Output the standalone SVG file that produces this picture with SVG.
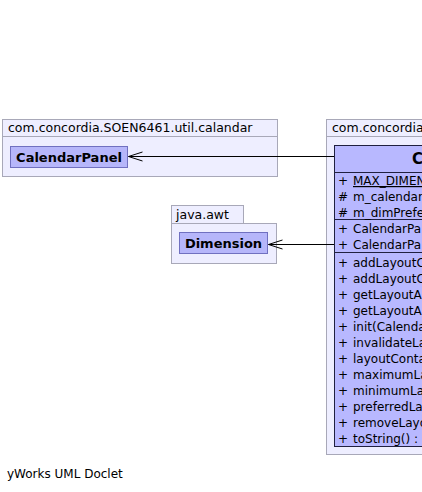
<svg xmlns="http://www.w3.org/2000/svg" width="422" height="492" viewBox="0 0 422 492">
<style>
text{font-family:"DejaVu Sans","Liberation Sans",sans-serif;fill:#000}
.pkg{fill:#eeeeff;stroke:#a8a8b8;stroke-width:1}
.pl{font-size:12.5px}
.ft{font-size:12px}
.ref{fill:#b6b6fa;stroke:#7070c0;stroke-width:1}
.cls{fill:#b8b8ff;stroke:#202040;stroke-width:1}
.sep{stroke:#202040;stroke-width:1}
.cn{font-size:13px;font-weight:bold}
.big{font-size:15px;font-weight:bold}
.m{font-size:12px}
.conn{stroke:#000;stroke-width:1;fill:none}
</style>
<defs>
<marker id="open" markerWidth="16" markerHeight="12" refX="15" refY="6" orient="auto" markerUnits="userSpaceOnUse">
<path d="M1,1.5 L15,6 L1,10.5" fill="none" stroke="#000" stroke-width="1"/>
</marker>
</defs>
<rect width="422" height="492" fill="#fff"/>

<g id="pkg-calandar">
<rect class="pkg" x="2.5" y="119.5" width="275" height="57"/>
<line x1="2.5" y1="136.5" x2="277.5" y2="136.5" stroke="#a8a8b8"/>
<text class="pl" x="8" y="132">com.concordia.SOEN6461.util.calandar</text>
</g>
<g id="node-CalendarPanel">
<rect class="ref" x="10.5" y="146.5" width="117" height="21"/>
<text class="cn" x="69" y="161.5" text-anchor="middle">CalendarPanel</text>
</g>

<g id="pkg-java-awt">
<rect class="pkg" x="171.5" y="205.5" width="72" height="18"/>
<rect class="pkg" x="171.5" y="223.5" width="105" height="40"/>
<text class="pl" x="176" y="219">java.awt</text>
</g>
<g id="node-Dimension">
<rect class="ref" x="179.5" y="232.5" width="88" height="21"/>
<text class="cn" x="223.5" y="247.5" text-anchor="middle">Dimension</text>
</g>

<g id="pkg-concordia">
<rect class="pkg" x="326.5" y="119.5" width="110" height="335"/>
<line x1="326.5" y1="136.5" x2="436" y2="136.5" stroke="#a8a8b8"/>
<text class="pl" x="332" y="132">com.concordia</text>
</g>
<g id="node-main-class">
<rect class="cls" x="334.5" y="145.5" width="100" height="301"/>
<line class="sep" x1="334.5" y1="172.5" x2="434" y2="172.5"/>
<line class="sep" x1="334.5" y1="219.5" x2="434" y2="219.5"/>
<line class="sep" x1="334.5" y1="252.5" x2="434" y2="252.5"/>
<text class="big" x="412" y="164">C</text>
<g>
<text class="m" x="338" y="185">+</text><text class="m" x="353" y="185" text-decoration="underline">MAX_DIMEN</text>
<text class="m" x="338" y="201">#</text><text class="m" x="353" y="201">m_calendar</text>
<text class="m" x="338" y="217">#</text><text class="m" x="353" y="217">m_dimPrefe</text>
<text class="m" x="338" y="233">+</text><text class="m" x="353" y="233">CalendarPa</text>
<text class="m" x="338" y="249">+</text><text class="m" x="353" y="249">CalendarPa</text>
<text class="m" x="338" y="266.5">+</text><text class="m" x="353" y="266.5">addLayoutC</text>
<text class="m" x="338" y="282.5">+</text><text class="m" x="353" y="282.5">addLayoutC</text>
<text class="m" x="338" y="298.5">+</text><text class="m" x="353" y="298.5">getLayoutA</text>
<text class="m" x="338" y="314.5">+</text><text class="m" x="353" y="314.5">getLayoutA</text>
<text class="m" x="338" y="330.5">+</text><text class="m" x="353" y="330.5">init(Calenda</text>
<text class="m" x="338" y="346.5">+</text><text class="m" x="353" y="346.5">invalidateLa</text>
<text class="m" x="338" y="362.5">+</text><text class="m" x="353" y="362.5">layoutConta</text>
<text class="m" x="338" y="378.5">+</text><text class="m" x="353" y="378.5">maximumLa</text>
<text class="m" x="338" y="394.5">+</text><text class="m" x="353" y="394.5">minimumLa</text>
<text class="m" x="338" y="410.5">+</text><text class="m" x="353" y="410.5">preferredLa</text>
<text class="m" x="338" y="426.5">+</text><text class="m" x="353" y="426.5">removeLayo</text>
<text class="m" x="338" y="442.5">+</text><text class="m" x="353" y="442.5">toString() :</text>
</g>
</g>

<g id="connectors">
<line class="conn" x1="334" y1="156.5" x2="128.5" y2="156.5" marker-end="url(#open)"/>
<line class="conn" x1="334" y1="244.5" x2="268.5" y2="244.5" marker-end="url(#open)"/>
</g>

<text class="ft" x="7" y="478">yWorks UML Doclet</text>
</svg>
